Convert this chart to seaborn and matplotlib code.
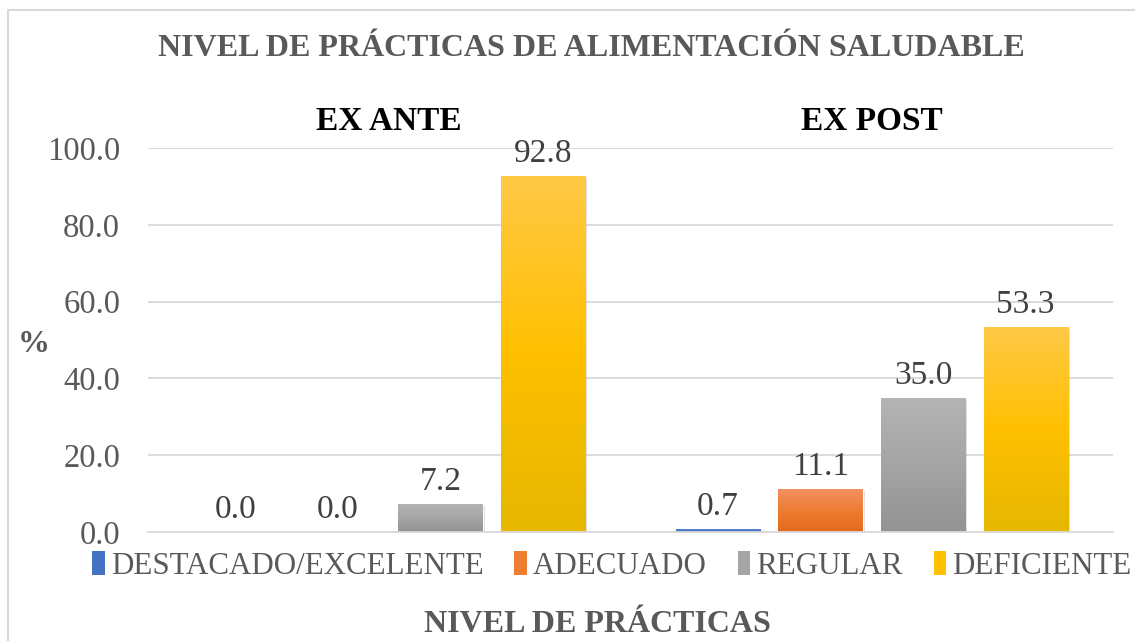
import numpy as np
import pandas as pd
import matplotlib
matplotlib.use("Agg")
import matplotlib.pyplot as plt
import seaborn as sns
from matplotlib.colors import LinearSegmentedColormap
from matplotlib.patches import Patch, Rectangle
import matplotlib.patheffects as pe

# ---- data ----
periods = ["EX ANTE", "EX POST"]
levels = ["DESTACADO/EXCELENTE", "ADECUADO", "REGULAR", "DEFICIENTE"]
ex_ante = [0.0, 0.0, 7.2, 92.8]
ex_post = [0.7, 11.1, 35.0, 53.3]
y_ticks = [0, 20, 40, 60, 80, 100]

base_colors = ["#4472C4", "#ED7D31", "#A5A5A5", "#FFC000"]
grad_stops = [
    ["#5F8DDA", "#4472C4", "#3A66B8"],
    ["#F39060", "#ED7D31", "#E46A1C"],
    ["#B4B4B4", "#A5A5A5", "#939393"],
    ["#FFC946", "#FFC000", "#E6B700"],
]

df = pd.DataFrame({
    "period": np.repeat(periods, len(levels)),
    "level": levels * len(periods),
    "value": ex_ante + ex_post,
})

serif = ["Liberation Serif", "DejaVu Serif"]
sns.set_theme(style="white")
plt.rcParams["font.family"] = serif

fig = plt.figure(figsize=(11.35, 6.41), dpi=100)
ax = fig.add_axes([148/1135, 1-532/641, (1113-148)/1135, (532-148)/641])

sns.barplot(data=df, x="period", y="value", hue="level", hue_order=levels,
            order=periods, palette=base_colors, width=0.85, gap=0.18,
            legend=False, ax=ax, saturation=1)

bars = [p for p in ax.patches if isinstance(p, Rectangle)]
for i, p in enumerate(bars):
    lvl = i // len(periods)
    x, w, h = p.get_x(), p.get_width(), p.get_height()
    if h <= 0:
        p.set_visible(False)
        continue
    p.set_path_effects([pe.SimplePatchShadow(offset=(1.5, -1.5), shadow_rgbFace="#000000", alpha=0.15), pe.Normal()])
    cmap = LinearSegmentedColormap.from_list("g", grad_stops[lvl][::-1])
    grad = np.linspace(1, 0, 100).reshape(-1, 1)
    im = ax.imshow(grad, cmap=cmap, extent=[x, x + w, 0, h], aspect="auto",
                   zorder=p.get_zorder() + 0.1, interpolation="bicubic")
    im.set_clip_path(p)

# value labels
for i, p in enumerate(bars):
    x, w, h = p.get_x(), p.get_width(), p.get_height()
    ax.annotate(f"{h:.1f}", (x + w / 2, h), xytext=(0, 5), textcoords="offset points",
                ha="center", va="bottom", fontsize=24, color="#404040", family=serif)

ax.set_xlim(-0.5, 1.5)
ax.set_ylim(0, 100)
ax.set_yticks(y_ticks)
ax.set_yticklabels([f"{v:.1f}" for v in y_ticks], fontsize=23.5, color="#595959")
ax.tick_params(axis="y", length=0, pad=20)
ax.set_xticks([])
ax.set_xlabel("")
ax.set_ylabel("")
ax.grid(axis="y", color="#D9D9D9", linewidth=1.3)
ax.set_axisbelow(True)
for s in ["top", "right", "left"]:
    ax.spines[s].set_visible(False)
ax.spines["bottom"].set_color("#D9D9D9")
ax.spines["bottom"].set_linewidth(1.3)

# group labels above plot
for i, per in enumerate(periods):
    ax.text(i, 1.07, per, transform=ax.get_xaxis_transform(), ha="center", va="center",
            fontsize=24, fontweight="bold", color="#000000", family=serif)

# titles
fig.text(591/1135, 1-48/641, "NIVEL DE PRÁCTICAS DE ALIMENTACIÓN SALUDABLE", ha="center", va="center",
         fontsize=23, fontweight="bold", color="#595959", family=serif)
fig.text(597/1135, 1-624/641, "NIVEL DE PRÁCTICAS", ha="center", va="center",
         fontsize=23, fontweight="bold", color="#595959", family=serif)
fig.text(34/1135, 1-345/641, "%", ha="center", va="center",
         fontsize=23, fontweight="bold", color="#595959", family=serif)

# legend
handles = [Patch(facecolor=c, edgecolor="none") for c in base_colors]
leg = fig.legend(handles, levels, loc="center", bbox_to_anchor=(612/1135, 1-566/641), ncol=4,
                 frameon=False, handlelength=0.4, handleheight=0.8,
                 handletextpad=0.2, columnspacing=1.0, labelcolor="#595959",
                 prop={"family": serif, "size": 22.3})

# chart border
fig.patches.append(Rectangle((8/1135, -0.05), 1.2, 1 - 10/641 + 0.05, transform=fig.transFigure,
                             fill=False, edgecolor="#D9D9D9", linewidth=1.5))

fig.savefig("out.png", dpi=100)
